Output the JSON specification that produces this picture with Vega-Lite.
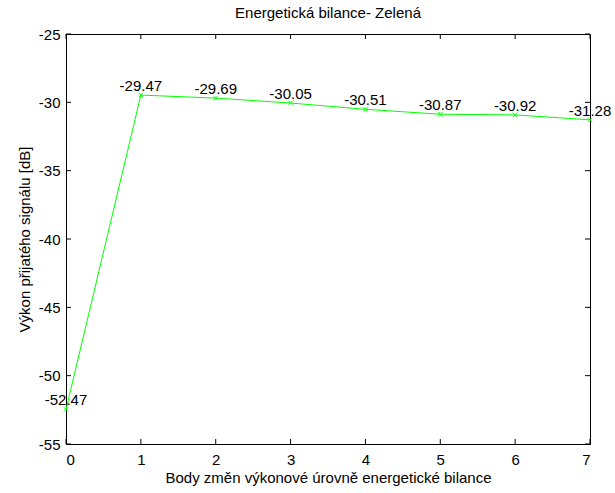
{
  "$schema": "https://vega.github.io/schema/vega-lite/v6.json",
  "autosize": "none",
  "padding": {"left": 66, "top": 34, "right": 25, "bottom": 49},
  "width": 524,
  "height": 410,
  "background": "white",
  "title": {"text": "Energetická bilance- Zelená", "font": "Liberation Sans", "fontSize": 15, "fontWeight": "normal", "color": "black", "offset": 6},
  "config": {
    "view": {"stroke": "black", "strokeWidth": 1},
    "axis": {"grid": false, "domainColor": "black", "tickColor": "black", "labelColor": "black", "titleColor": "black", "labelFont": "Liberation Sans", "titleFont": "Liberation Sans", "labelFontSize": 15, "titleFontSize": 15, "titleFontWeight": "normal"}
  },
  "datasets": {
    "main": [
      {"x": 0, "y": -52.47, "label": "-52.47"},
      {"x": 1, "y": -29.47, "label": "-29.47"},
      {"x": 2, "y": -29.69, "label": "-29.69"},
      {"x": 3, "y": -30.05, "label": "-30.05"},
      {"x": 4, "y": -30.51, "label": "-30.51"},
      {"x": 5, "y": -30.87, "label": "-30.87"},
      {"x": 6, "y": -30.92, "label": "-30.92"},
      {"x": 7, "y": -31.28, "label": "-31.28"}
    ],
    "xticks": [{"v": 0}, {"v": 1}, {"v": 2}, {"v": 3}, {"v": 4}, {"v": 5}, {"v": 6}, {"v": 7}],
    "yticks": [{"v": -55}, {"v": -50}, {"v": -45}, {"v": -40}, {"v": -35}, {"v": -30}, {"v": -25}]
  },
  "layer": [
    {
      "data": {"name": "main"},
      "mark": {"type": "line", "color": "#00ff00", "strokeWidth": 1},
      "encoding": {
        "x": {"field": "x", "type": "quantitative", "scale": {"domain": [0, 7], "nice": false}, "axis": {"values": [0,1,2,3,4,5,6,7], "labelExpr": "toString(datum.value)", "ticks": false, "title": "Body změn výkonové úrovně energetické bilance", "titlePadding": 3, "labelPadding": 8}},
        "y": {"field": "y", "type": "quantitative", "scale": {"domain": [-55, -25], "nice": false, "zero": false}, "axis": {"values": [-55,-50,-45,-40,-35,-30,-25], "labelExpr": "toString(datum.value)", "ticks": false, "title": "Výkon přijatého signálu [dB]", "titlePadding": 6, "labelPadding": 6}}
      }
    },
    {
      "data": {"name": "xticks"},
      "mark": {"type": "tick", "orient": "vertical", "size": 5, "thickness": 1, "color": "black", "yOffset": -2.5, "opacity": 1},
      "encoding": {
        "x": {"field": "v", "type": "quantitative"},
        "y": {"datum": -55, "type": "quantitative"}
      }
    },
    {
      "data": {"name": "xticks"},
      "mark": {"type": "tick", "orient": "vertical", "size": 5, "thickness": 1, "color": "black", "yOffset": 2.5, "opacity": 1},
      "encoding": {
        "x": {"field": "v", "type": "quantitative"},
        "y": {"datum": -25, "type": "quantitative"}
      }
    },
    {
      "data": {"name": "yticks"},
      "mark": {"type": "tick", "orient": "horizontal", "size": 5, "thickness": 1, "color": "black", "xOffset": 2.5, "opacity": 1},
      "encoding": {
        "y": {"field": "v", "type": "quantitative"},
        "x": {"datum": 0, "type": "quantitative"}
      }
    },
    {
      "data": {"name": "yticks"},
      "mark": {"type": "tick", "orient": "horizontal", "size": 5, "thickness": 1, "color": "black", "xOffset": -2.5, "opacity": 1},
      "encoding": {
        "y": {"field": "v", "type": "quantitative"},
        "x": {"datum": 7, "type": "quantitative"}
      }
    },
    {
      "data": {"name": "main"},
      "mark": {"type": "point", "shape": "M-1,-1L1,1M-1,1L1,-1", "filled": false, "color": "#00ff00", "size": 20, "strokeWidth": 1, "opacity": 1},
      "encoding": {
        "x": {"field": "x", "type": "quantitative"},
        "y": {"field": "y", "type": "quantitative"}
      }
    },
    {
      "data": {"name": "main"},
      "mark": {"type": "text", "font": "Liberation Sans", "fontSize": 15, "color": "black", "align": "center", "baseline": "bottom", "dy": -1},
      "encoding": {
        "x": {"field": "x", "type": "quantitative"},
        "y": {"field": "y", "type": "quantitative"},
        "text": {"field": "label"}
      }
    }
  ]
}
